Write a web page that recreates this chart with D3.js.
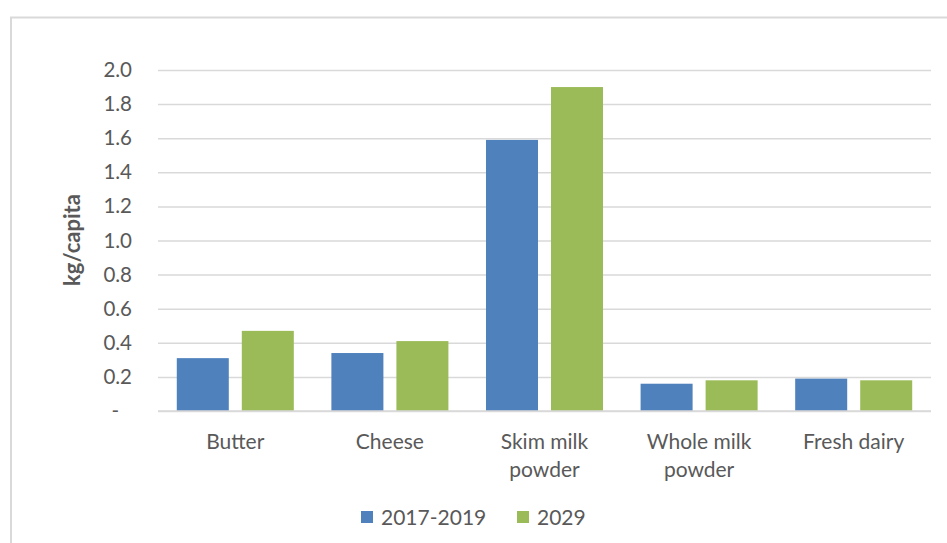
<!DOCTYPE html>
<html>
<head>
<meta charset="utf-8">
<script src="https://cdn.jsdelivr.net/npm/d3@7/dist/d3.min.js"></script>
<style>
  html, body { margin: 0; padding: 0; background: #ffffff; }
  svg { display: block; }
  text { font-family: Lato, "Noto Sans", sans-serif; fill: #595959; }
</style>
</head>
<body>
<svg id="chart" width="947" height="543"></svg>
<script>
// Dairy consumption per capita, by product
const categories = [["Butter"], ["Cheese"], ["Skim milk", "powder"], ["Whole milk", "powder"], ["Fresh dairy"]];
const seriesNames = ["2017-2019", "2029"];
const seriesColors = ["#4F81BD", "#9BBB59"];
const values2017_2019 = [0.31, 0.34, 1.59, 0.16, 0.19];
const values2029 = [0.47, 0.41, 1.90, 0.18, 0.18];
const yTicks = [0, 0.2, 0.4, 0.6, 0.8, 1.0, 1.2, 1.4, 1.6, 1.8, 2.0];
const yTickLabels = ["-", "0.2", "0.4", "0.6", "0.8", "1.0", "1.2", "1.4", "1.6", "1.8", "2.0"];
const yTitle = "kg/capita";

const seriesValues = [values2017_2019, values2029];
const rows = categories.map((c, i) => ({
  key: c.join(" "),
  lines: c,
  vals: seriesValues.map((s, j) => ({ series: seriesNames[j], value: s[i], color: seriesColors[j] }))
}));

const svg = d3.select("#chart");
const plot = { left: 158, right: 931, top: 70, bottom: 411 };

// Chart area frame
svg.append("rect")
  .attr("x", 11).attr("y", 17.5)
  .attr("width", 960).attr("height", 560)
  .attr("fill", "none").attr("stroke", "#D9D9D9").attr("stroke-width", 2);

const x0 = d3.scaleBand()
  .domain(rows.map(d => d.key))
  .range([plot.left, plot.right])
  .paddingInner(0).paddingOuter(0);

const x1 = d3.scaleBand()
  .domain(seriesNames)
  .range([0, x0.bandwidth()])
  .paddingInner(0.2).paddingOuter(0.289);

const y = d3.scaleLinear().domain([0, 2.0]).range([plot.bottom, plot.top]);

// Gridlines
const yAxis = d3.axisLeft(y)
  .tickValues(yTicks)
  .tickSize(-(plot.right - plot.left))
  .tickPadding(26)
  .tickFormat((d, i) => yTickLabels[i]);

const gy = svg.append("g")
  .attr("transform", `translate(${plot.left},0)`)
  .call(yAxis);
gy.select(".domain").remove();
gy.selectAll(".tick line").attr("stroke", "#D9D9D9").attr("stroke-width", 1.5);
gy.selectAll(".tick text")
  .attr("font-size", 20.5)
  .attr("fill", "#595959")
  .attr("dx", (d, i) => yTickLabels[i] === "-" ? -13 : 0);

// Bars
const groups = svg.append("g").selectAll("g")
  .data(rows)
  .join("g")
  .attr("transform", d => `translate(${x0(d.key)},0)`);

groups.selectAll("rect")
  .data(d => d.vals)
  .join("rect")
  .attr("x", d => x1(d.series))
  .attr("width", x1.bandwidth())
  .attr("y", d => y(d.value))
  .attr("height", d => y(0) - y(d.value))
  .attr("fill", d => d.color);

// Baseline
svg.append("line")
  .attr("x1", plot.left).attr("x2", plot.right)
  .attr("y1", y(0)).attr("y2", y(0))
  .attr("stroke", "#D9D9D9").attr("stroke-width", 1.5);

// Category labels
const xl = svg.append("g").selectAll("text")
  .data(rows)
  .join("text")
  .attr("text-anchor", "middle")
  .attr("font-size", 21)
  .attr("x", d => x0(d.key) + x0.bandwidth() / 2)
  .attr("y", 449);
xl.selectAll("tspan")
  .data(d => d.lines.map((t, k) => ({ t, k, cx: x0(d.key) + x0.bandwidth() / 2 })))
  .join("tspan")
  .attr("x", d => d.cx)
  .attr("dy", d => d.k === 0 ? 0 : 28)
  .text(d => d.t);

// Axis title
svg.append("text")
  .attr("transform", "translate(80,240) rotate(-90)")
  .attr("text-anchor", "middle")
  .attr("font-size", 22)
  .attr("font-weight", "bold")
  .text(yTitle);

// Legend
const legendX = [361, 517];
const lg = svg.append("g").selectAll("g")
  .data(seriesNames)
  .join("g")
  .attr("transform", (d, i) => `translate(${legendX[i]},0)`);
lg.append("rect")
  .attr("x", 0).attr("y", 511)
  .attr("width", 12).attr("height", 12)
  .attr("fill", (d, i) => seriesColors[i]);
lg.append("text")
  .attr("x", 20).attr("y", 525)
  .attr("font-size", 21)
  .text(d => d);
</script>
</body>
</html>
